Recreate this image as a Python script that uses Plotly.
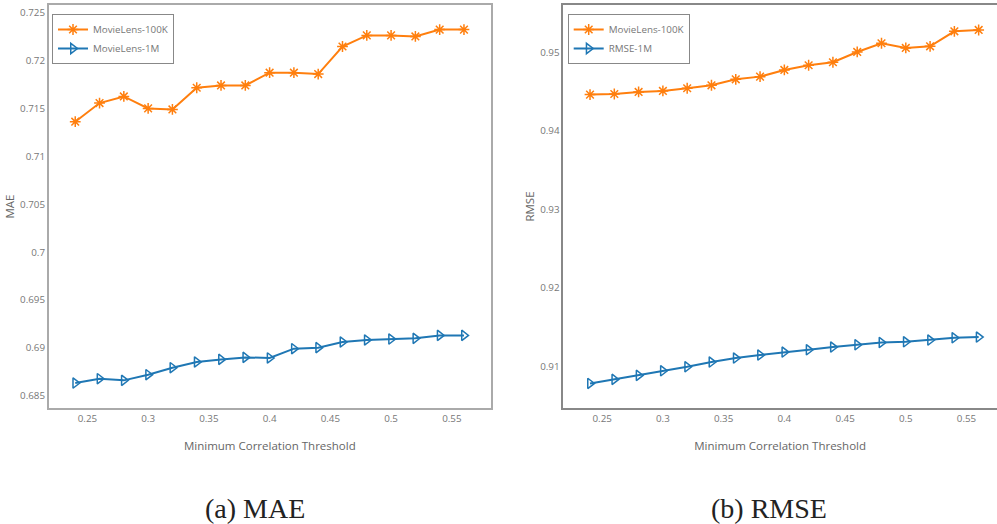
import plotly.graph_objects as go

thresholds = [0.24, 0.26, 0.28, 0.30, 0.32, 0.34, 0.36, 0.38, 0.40,
              0.42, 0.44, 0.46, 0.48, 0.50, 0.52, 0.54, 0.56]

mae_100k = [0.71364, 0.71559, 0.71628, 0.71503, 0.71492, 0.71719, 0.71743, 0.71743, 0.71876,
            0.71876, 0.71862, 0.72150, 0.72266, 0.72266, 0.72255, 0.72327, 0.72327]
mae_1m = [0.68632, 0.68677, 0.68660, 0.68719, 0.68792, 0.68852, 0.68879, 0.68900, 0.68894,
          0.68991, 0.69002, 0.69061, 0.69082, 0.69092, 0.69099, 0.69130, 0.69130]

rmse_100k = [0.94461, 0.94469, 0.94495, 0.94508, 0.94542, 0.94580, 0.94656, 0.94690, 0.94775,
             0.94835, 0.94873, 0.95004, 0.95115, 0.95055, 0.95076, 0.95267, 0.95284]
rmse_1m = [0.90784, 0.90835, 0.90886, 0.90945, 0.90996, 0.91056, 0.91107, 0.91145, 0.91183,
           0.91212, 0.91247, 0.91276, 0.91305, 0.91314, 0.91336, 0.91365, 0.91374]

names_left = ["MovieLens-100K", "MovieLens-1M"]
names_right = ["MovieLens-100K", "RMSE-1M"]
captions = ["(a) MAE", "(b) RMSE"]
y_titles = ["MAE", "RMSE"]
x_title = "Minimum Correlation Threshold"
x_ticks = [0.25, 0.3, 0.35, 0.4, 0.45, 0.5, 0.55]
x_ticklabels = ["0.25", "0.3", "0.35", "0.4", "0.45", "0.5", "0.55"]
mae_ticks = [0.685, 0.69, 0.695, 0.7, 0.705, 0.71, 0.715, 0.72, 0.725]
mae_ticklabels = ["0.685", "0.69", "0.695", "0.7", "0.705", "0.71", "0.715", "0.72", "0.725"]
rmse_ticks = [0.91, 0.92, 0.93, 0.94, 0.95]
rmse_ticklabels = ["0.91", "0.92", "0.93", "0.94", "0.95"]

ORANGE = "#ff7f0e"
BLUE = "#1f77b4"
W, H = 997, 524

fig = go.Figure()


def add_series(x, y, name, color, symbol, xa, ya, legend):
    fig.add_trace(go.Scatter(
        x=x, y=y, name=name, mode="lines+markers",
        line=dict(color=color, width=2),
        marker=dict(symbol=symbol, size=9, color=color,
                    line=dict(color=color, width=1.5)),
        xaxis=xa, yaxis=ya, legend=legend,
    ))


add_series(thresholds, mae_100k, names_left[0], ORANGE, "asterisk-open", "x", "y", "legend")
add_series(thresholds, mae_1m, names_left[1], BLUE, "triangle-right-open", "x", "y", "legend")
add_series(thresholds, rmse_100k, names_right[0], ORANGE, "asterisk-open", "x2", "y2", "legend2")
add_series(thresholds, rmse_1m, names_right[1], BLUE, "triangle-right-open", "x2", "y2", "legend2")

tick_font = dict(family="Open Sans", size=9.8, color="#777777")
title_font = dict(family="Open Sans", size=11.5, color="#666666")
legend_font = dict(family="Open Sans", size=9.8, color="#777777")

py0 = (H - 408) / H
py1 = (H - 5) / H

common_x = dict(showgrid=False, zeroline=False, showline=True, mirror=True,
                ticks="", tickfont=tick_font, tickvals=x_ticks, ticktext=x_ticklabels,
                title=dict(text=x_title, font=title_font, standoff=18))
common_y = dict(showgrid=False, zeroline=False, showline=True,
                ticks="", tickfont=tick_font)

fig.update_layout(
    width=W, height=H,
    margin=dict(l=0, r=0, t=0, b=0),
    paper_bgcolor="white", plot_bgcolor="white",
    font=dict(family="Open Sans"),
    xaxis=dict(common_x, domain=[49 / W, 490.7 / W], range=[0.2184, 0.582],
               linecolor="#aaaaaa", linewidth=2, anchor="y"),
    yaxis=dict(common_y, domain=[py0, py1], range=[0.68371, 0.72584],
               tickvals=mae_ticks, ticktext=mae_ticklabels, mirror=True,
               linecolor="#aaaaaa", linewidth=2, anchor="x",
               title=dict(text=y_titles[0], font=title_font, standoff=3)),
    xaxis2=dict(common_x, domain=[563.3 / W, 1.0], range=[0.218, 0.5751],
                linecolor="#888888", linewidth=1.5, anchor="y2"),
    yaxis2=dict(common_y, domain=[py0, py1], range=[0.90471, 0.95602],
                tickvals=rmse_ticks, ticktext=rmse_ticklabels, mirror=False,
                linecolor="#888888", linewidth=1.5, anchor="x2",
                title=dict(text=y_titles[1], font=title_font, standoff=3)),
    legend=dict(x=52 / W, y=(H - 14) / H, xanchor="left", yanchor="top",
                bgcolor="white", bordercolor="#888888", borderwidth=1,
                font=legend_font, tracegroupgap=0, itemwidth=30),
    legend2=dict(x=567.7 / W, y=(H - 14) / H, xanchor="left", yanchor="top",
                 bgcolor="white", bordercolor="#888888", borderwidth=1,
                 font=legend_font, tracegroupgap=0, itemwidth=30),
    showlegend=True,
)

for cap, cx in zip(captions, [255, 769]):
    fig.add_annotation(text=cap, x=cx / W, y=(H - 508) / H, xref="paper", yref="paper",
                       xanchor="center", yanchor="middle", showarrow=False,
                       font=dict(family="Liberation Serif", size=28, color="#222222"))

fig.write_html("out.html")
